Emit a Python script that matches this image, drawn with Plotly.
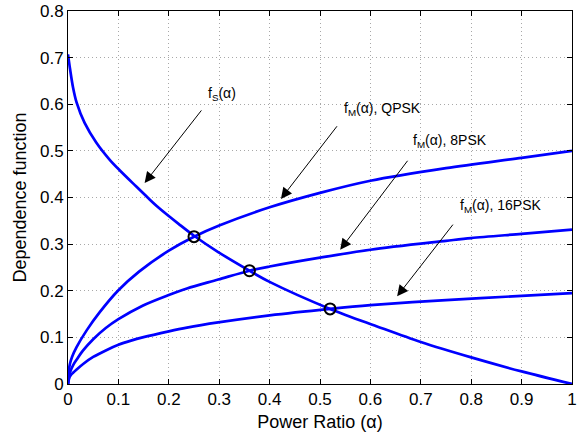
import plotly.graph_objects as go

# Power ratio samples and dependence-function values for each curve
alpha_s = [0, 0.004, 0.010, 0.017, 0.033, 0.056, 0.082, 0.102, 0.135, 0.158,
           0.180, 0.220, 0.250, 0.298, 0.360, 0.400, 0.520, 0.612, 0.700,
           0.800, 0.900, 1.0]
f_s = [0.707, 0.676, 0.636, 0.604, 0.560, 0.518, 0.482, 0.459, 0.424, 0.400,
       0.378, 0.343, 0.318, 0.283, 0.243, 0.219, 0.161, 0.124, 0.090,
       0.057, 0.027, 0.0]

alpha_qpsk = [0, 0.002, 0.004, 0.008, 0.017, 0.037, 0.063, 0.100, 0.141,
              0.200, 0.250, 0.300, 0.400, 0.500, 0.600, 0.750, 0.900, 1.0]
f_qpsk = [0, 0.032, 0.044, 0.058, 0.079, 0.115, 0.154, 0.201, 0.241,
          0.286, 0.316, 0.340, 0.379, 0.410, 0.436, 0.463, 0.485, 0.500]

alpha_8psk = [0, 0.002, 0.005, 0.010, 0.017, 0.030, 0.050, 0.075, 0.100,
              0.148, 0.200, 0.236, 0.298, 0.360, 0.400, 0.500, 0.600, 0.750,
              0.800, 0.900, 1.0]
f_8psk = [0, 0.018, 0.028, 0.040, 0.052, 0.072, 0.096, 0.120, 0.139,
          0.168, 0.191, 0.205, 0.224, 0.243, 0.252, 0.271, 0.288, 0.307,
          0.313, 0.322, 0.331]

alpha_16psk = [0, 0.002, 0.005, 0.010, 0.017, 0.030, 0.050, 0.075, 0.100,
               0.125, 0.148, 0.200, 0.236, 0.298, 0.400, 0.520, 0.600, 0.750,
               0.900, 1.0]
f_16psk = [0, 0.011, 0.018, 0.024, 0.031, 0.043, 0.058, 0.072, 0.084,
           0.093, 0.100, 0.113, 0.121, 0.132, 0.147, 0.161, 0.169, 0.180,
           0.189, 0.195]

# Intersection points of f_S with each f_M curve
cross_alpha = [0.25, 0.36, 0.52]
cross_val = [0.316, 0.243, 0.161]

x_ticks = [0, 0.1, 0.2, 0.3, 0.4, 0.5, 0.6, 0.7, 0.8, 0.9, 1]
x_tick_text = ["0", "0.1", "0.2", "0.3", "0.4", "0.5", "0.6", "0.7", "0.8", "0.9", "1"]
y_ticks = [0, 0.1, 0.2, 0.3, 0.4, 0.5, 0.6, 0.7, 0.8]
y_tick_text = ["0", "0.1", "0.2", "0.3", "0.4", "0.5", "0.6", "0.7", "0.8"]

FONT = "Liberation Sans, Arial, Helvetica, sans-serif"
BLUE = "#0000ff"

fig = go.Figure()
for xs, ys in [(alpha_s, f_s), (alpha_qpsk, f_qpsk),
               (alpha_8psk, f_8psk), (alpha_16psk, f_16psk)]:
    fig.add_trace(go.Scatter(x=xs, y=ys, mode="lines",
                             line=dict(color=BLUE, width=2.7, shape="spline", smoothing=0.9),
                             showlegend=False, hoverinfo="skip"))

fig.add_trace(go.Scatter(x=cross_alpha, y=cross_val, mode="markers",
                         marker=dict(symbol="circle-open", size=11, color="black",
                                     line=dict(width=2, color="black")),
                         showlegend=False, hoverinfo="skip"))

# Labels with pointer arrows: (label, text pos, arrow tail, arrow head)
labels = [
    ("f<sub>S</sub>(α)", (0.273, 0.622), (0.267, 0.590), (0.152, 0.431)),
    ("f<sub>M</sub>(α), QPSK", (0.544, 0.590), (0.536, 0.556), (0.4225, 0.397)),
    ("f<sub>M</sub>(α), 8PSK", (0.681, 0.521), (0.676, 0.482), (0.540, 0.288)),
    ("f<sub>M</sub>(α), 16PSK", (0.773, 0.382), (0.766, 0.345), (0.653, 0.188)),
]
for text, (tx, ty), (ax, ay), (hx, hy) in labels:
    fig.add_annotation(x=hx, y=hy, ax=ax, ay=ay, xref="x", yref="y",
                       axref="x", ayref="y", text="", showarrow=True,
                       arrowhead=2, arrowsize=2.2, arrowwidth=1, arrowcolor="black")
    fig.add_annotation(x=tx, y=ty, xref="x", yref="y", text=text, showarrow=False,
                       xanchor="left", yanchor="middle",
                       font=dict(family=FONT, size=14, color="black"))

axis_common = dict(
    showline=True, linecolor="black", linewidth=1, mirror="allticks",
    ticks="inside", ticklen=5, tickcolor="black",
    showgrid=True, gridcolor="#a8a8a8", gridwidth=1, griddash="1px,3px",
    zeroline=False, tickfont=dict(family=FONT, size=17, color="black"),
    ticklabeloverflow="allow",
)

fig.update_xaxes(range=[0, 1], tickvals=x_ticks, ticktext=x_tick_text,
                 title=dict(text="Power Ratio (α)", font=dict(family=FONT, size=18, color="black"),
                            standoff=6),
                 **axis_common)
fig.update_yaxes(range=[0, 0.8], tickvals=y_ticks, ticktext=y_tick_text,
                 title=dict(text="Dependence function", font=dict(family=FONT, size=18, color="black"),
                            standoff=8),
                 **axis_common)

fig.update_layout(width=579, height=434,
                  margin=dict(l=68, r=2, t=10, b=50),
                  plot_bgcolor="white", paper_bgcolor="white")

fig.write_html("out.html")
